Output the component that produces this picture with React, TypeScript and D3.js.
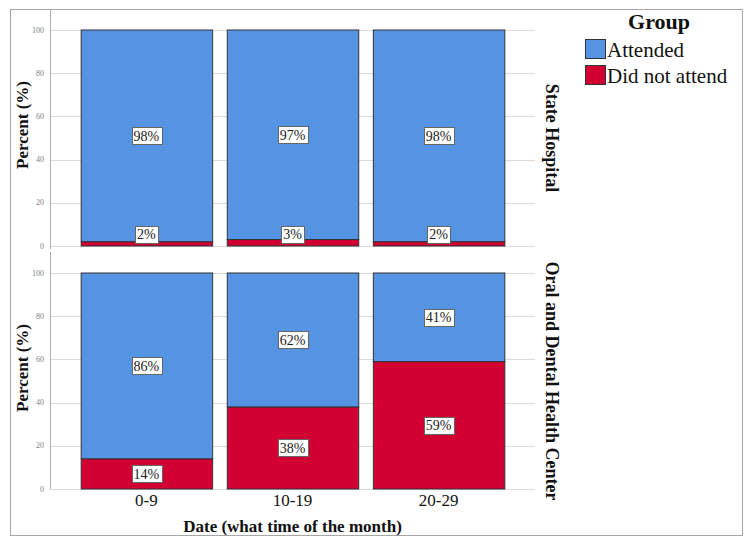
import React, { useEffect, useRef } from "react";
import * as d3 from "d3";

// time-of-month buckets on the x axis
const categories = ["0-9", "10-19", "20-29"];
// one panel per facility
const facets = ["State Hospital", "Oral and Dental Health Center"];
const groups = ["Attended", "Did not attend"];
// percentages per facility, in category order
const attended = [
  [98, 97, 98],
  [86, 62, 41],
];
const didNotAttend = [
  [2, 3, 2],
  [14, 38, 59],
];
const yTicks = [0, 20, 40, 60, 80, 100];

const W = 752;
const H = 546;
const SERIF = "'Liberation Serif', 'Times New Roman', serif";
const BLUE = "#5594e2";
const RED = "#d20032";

export default function App() {
  const svgRef = useRef<SVGSVGElement | null>(null);

  useEffect(() => {
    const svg = d3.select(svgRef.current);
    svg.selectAll("*").remove();

    const left = 50;
    const right = 535;
    // [top of 100, bottom at 0] for each panel
    const panels = [
      { top: 30, bottom: 246, axisTop: 10, axisBottom: 249 },
      { top: 273, bottom: 489, axisTop: 252, axisBottom: 489 },
    ];

    // outer frame
    svg
      .append("rect")
      .attr("x", 10.5)
      .attr("y", 9.5)
      .attr("width", 732)
      .attr("height", 526)
      .attr("fill", "none")
      .attr("stroke", "#a6a6a6");

    const x = d3
      .scaleBand()
      .domain(categories)
      .range([left, right])
      .paddingInner(0.1)
      .paddingOuter(0.21);

    panels.forEach((p, pi) => {
      const y = d3.scaleLinear().domain([0, 100]).range([p.bottom, p.top]);
      const g = svg.append("g");

      // gridlines
      g.selectAll(".grid")
        .data(yTicks)
        .enter()
        .append("line")
        .attr("x1", left)
        .attr("x2", right)
        .attr("y1", (d) => Math.round(y(d)) + 0.5)
        .attr("y2", (d) => Math.round(y(d)) + 0.5)
        .attr("stroke", "#dcdcdc");

      // y axis line
      g.append("line")
        .attr("x1", left + 0.5)
        .attr("x2", left + 0.5)
        .attr("y1", p.axisTop)
        .attr("y2", p.axisBottom)
        .attr("stroke", "#b0b0b0");

      // tick labels
      g.selectAll(".tick")
        .data(yTicks)
        .enter()
        .append("text")
        .attr("x", 44)
        .attr("y", (d) => y(d))
        .attr("dy", "0.32em")
        .attr("text-anchor", "end")
        .style("font-family", SERIF)
        .style("font-size", "8px")
        .attr("fill", "#808080")
        .text((d) => d);

      // stacked bars: did not attend at the bottom, attended on top
      const rows = categories.map((c, i) => ({
        cat: c,
        segs: [
          { key: groups[1], v0: 0, v1: didNotAttend[pi][i], val: didNotAttend[pi][i], color: RED },
          {
            key: groups[0],
            v0: didNotAttend[pi][i],
            v1: didNotAttend[pi][i] + attended[pi][i],
            val: attended[pi][i],
            color: BLUE,
          },
        ],
      }));

      rows.forEach((r) => {
        r.segs.forEach((s) => {
          g.append("rect")
            .attr("x", (x(r.cat) as number) + 0.5)
            .attr("y", y(s.v1))
            .attr("width", x.bandwidth())
            .attr("height", y(s.v0) - y(s.v1))
            .attr("fill", s.color)
            .attr("stroke", "#333")
            .attr("stroke-width", 1);
        });
      });

      // value labels in white boxes
      rows.forEach((r) => {
        r.segs.forEach((s) => {
          const cx = (x(r.cat) as number) + x.bandwidth() / 2;
          const boxH = 17;
          let cy = (y(s.v0) + y(s.v1)) / 2;
          cy = Math.min(cy, p.bottom - boxH / 2 - 3);
          const lg = g.append("g");
          const rect = lg.append("rect");
          const t = lg
            .append("text")
            .attr("x", cx)
            .attr("y", cy)
            .attr("dy", "0.34em")
            .attr("text-anchor", "middle")
            .style("font-family", SERIF)
            .style("font-size", "14px")
            .attr("fill", "#222")
            .text(`${s.val}%`);
          const tw = (t.node() as SVGTextElement).getComputedTextLength();
          rect
            .attr("x", Math.round(cx - tw / 2 - 2) + 0.5)
            .attr("y", Math.round(cy - boxH / 2) + 0.5)
            .attr("width", Math.round(tw + 4))
            .attr("height", boxH)
            .attr("fill", "#fff")
            .attr("stroke", "#666");
        });
      });

      const mid = (p.top + p.bottom) / 2;

      // y axis title
      g.append("text")
        .attr("transform", `translate(28,${mid - 13}) rotate(-90)`)
        .attr("text-anchor", "middle")
        .style("font-family", SERIF)
        .style("font-size", "17px")
        .style("font-weight", "bold")
        .attr("fill", "#111")
        .text("Percent (%)");

      // facet label
      g.append("text")
        .attr("transform", `translate(546,${mid}) rotate(90)`)
        .attr("text-anchor", "middle")
        .style("font-family", SERIF)
        .style("font-size", "18px")
        .style("font-weight", "bold")
        .attr("fill", "#111")
        .text(facets[pi]);
    });

    // x tick labels
    svg
      .selectAll(".xlab")
      .data(categories)
      .enter()
      .append("text")
      .attr("x", (d) => (x(d) as number) + x.bandwidth() / 2)
      .attr("y", 506)
      .attr("text-anchor", "middle")
      .style("font-family", SERIF)
      .style("font-size", "17px")
      .attr("fill", "#111")
      .text((d) => d);

    // x axis title
    svg
      .append("text")
      .attr("x", (left + right) / 2)
      .attr("y", 532)
      .attr("text-anchor", "middle")
      .style("font-family", SERIF)
      .style("font-size", "17px")
      .style("font-weight", "bold")
      .attr("fill", "#111")
      .text("Date (what time of the month)");

    // legend
    const legend = svg.append("g");
    legend
      .append("text")
      .attr("x", 659)
      .attr("y", 29)
      .attr("text-anchor", "middle")
      .style("font-family", SERIF)
      .style("font-size", "22px")
      .style("font-weight", "bold")
      .attr("fill", "#111")
      .text("Group");

    [BLUE, RED].forEach((c, i) => {
      legend
        .append("rect")
        .attr("x", 585.5)
        .attr("y", 39.5 + i * 26)
        .attr("width", 20)
        .attr("height", 19)
        .attr("fill", c)
        .attr("stroke", "#333");
      legend
        .append("text")
        .attr("x", 607)
        .attr("y", 57 + i * 26)
        .style("font-family", SERIF)
        .style("font-size", "21px")
        .attr("fill", "#111")
        .text(groups[i]);
    });
  }, []);

  return (
    <div style={{ position: "absolute", left: 0, top: 0, width: W, height: H, background: "#fff" }}>
      <svg ref={svgRef} width={W} height={H} />
    </div>
  );
}
